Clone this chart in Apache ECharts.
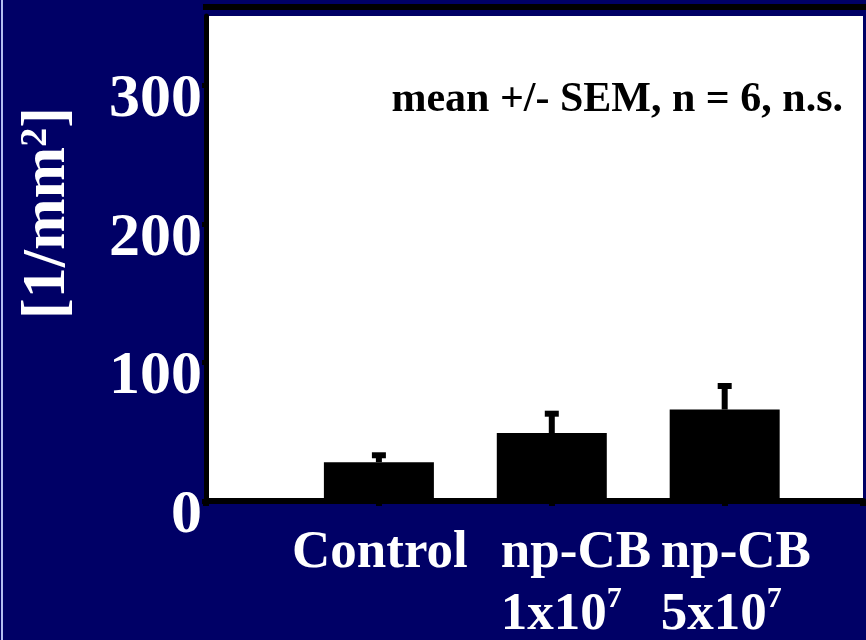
<!DOCTYPE html>
<html>
<head>
<meta charset="utf-8">
<script src="https://cdn.jsdelivr.net/npm/echarts@6/dist/echarts.min.js"></script>
<style>
  html, body { margin: 0; padding: 0; background: #000066; }
  #chart { width: 866px; height: 640px; }
</style>
</head>
<body>
<div id="chart"></div>
<script>
// Group labels (rich text: {sup|..} is a superscript exponent)
const categories = ['Control', 'np-CB\n1x10{sup|7}', 'np-CB\n5x10{sup|7}'];
// Mean density per group and its standard error
const means = [28, 49, 66];
const sem = [5, 14, 17];
// Value axis range and tick step
const yMin = 0;
const yMax = 350;
const yStep = 100;
const yAxisTitle = '[1/mm{sup|2}]';
const note = 'mean +/- SEM, n = 6, n.s.';

const SERIF = '"Liberation Serif", "Times New Roman", serif';

const chart = echarts.init(document.getElementById('chart'));

const barData = means.map((m, i) => [i + 1, m]);
const errData = means.map((m, i) => [i + 1, m, m + sem[i]]);

function renderError(params, api) {
  const base = api.coord([api.value(0), api.value(1)]);
  const top = api.coord([api.value(0), api.value(2)]);
  return {
    type: 'group',
    children: [
      { type: 'rect', shape: { x: base[0] - 3, y: top[1], width: 6, height: base[1] - top[1] }, style: { fill: '#000' } },
      { type: 'rect', shape: { x: top[0] - 7, y: top[1] - 3, width: 14, height: 6 }, style: { fill: '#000' } }
    ]
  };
}

chart.setOption({
  backgroundColor: '#000066',
  animation: false,
  grid: {
    left: 206, right: 3, top: 16, bottom: 139,
    show: true, backgroundColor: '#ffffff', borderWidth: 0
  },
  xAxis: {
    type: 'value', min: 0, max: 3.8, interval: 1,
    axisLine: { show: true, lineStyle: { color: '#000', width: 6 } },
    axisTick: { show: true, length: 5, lineStyle: { color: '#000', width: 6 } },
    axisLabel: { show: false },
    splitLine: { show: false }
  },
  yAxis: {
    type: 'value', min: yMin, max: yMax, interval: yStep,
    axisLine: { show: true, lineStyle: { color: '#000', width: 5 } },
    axisTick: { show: true, length: 4, lineStyle: { color: '#000', width: 5 } },
    axisLabel: {
      color: '#fff', fontFamily: SERIF, fontWeight: 'bold', fontSize: 62,
      margin: 4, verticalAlign: 'top', lineHeight: 30,
      showMaxLabel: false
    },
    splitLine: { show: false }
  },
  series: [
    {
      type: 'bar', data: barData, barWidth: 110,
      itemStyle: { color: '#000' }, z: 2
    },
    {
      type: 'custom', data: errData, renderItem: renderError, z: 3
    }
  ]
});

function drawText() {
  const labelTop = 522;
  const anchors = [
    { dx: 1, align: 'center' },
    { dx: -51, align: 'left' },
    { dx: -64, align: 'left' }
  ];
  const labelItems = categories.map((c, i) => {
    const p = chart.convertToPixel({ xAxisIndex: 0, yAxisIndex: 0 }, [i + 1, 0]);
    return {
      type: 'text',
      x: p[0] + anchors[i].dx,
      y: labelTop,
      style: {
        text: c,
        align: anchors[i].align,
        verticalAlign: 'top',
        fill: '#fff',
        font: 'bold 53px ' + SERIF,
        lineHeight: 62,
        rich: {
          sup: { fontSize: 30, fontWeight: 'bold', fontFamily: SERIF, fill: '#fff', verticalAlign: 'top', lineHeight: 62 }
        }
      }
    };
  });

  chart.setOption({
    graphic: [
      { type: 'rect', shape: { x: 1, y: 0, width: 2, height: 640 }, style: { fill: '#b4bef0' } },
      { type: 'rect', shape: { x: 203, y: 4, width: 663, height: 6 }, style: { fill: '#000' } },
      {
        type: 'text', x: 48, y: 213, rotation: Math.PI / 2,
        style: {
          text: yAxisTitle, align: 'center', verticalAlign: 'middle',
          fill: '#fff', font: 'bold 62px ' + SERIF,
          rich: { sup: { fontSize: 38, fontWeight: 'bold', fontFamily: SERIF, fill: '#fff', verticalAlign: 'top' } }
        }
      },
      {
        type: 'text', x: 843, y: 100,
        style: {
          text: note, align: 'right', verticalAlign: 'middle',
          fill: '#000', font: 'bold 42px ' + SERIF
        }
      }
    ].concat(labelItems)
  });
}
drawText();
</script>
</body>
</html>
